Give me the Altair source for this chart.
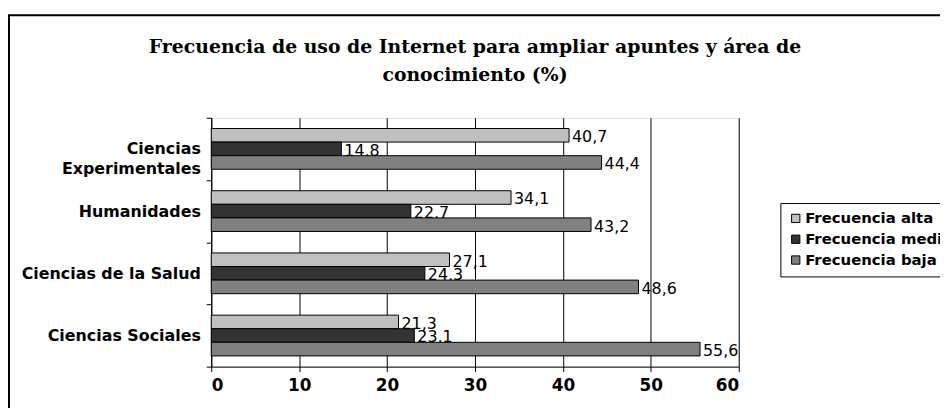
import altair as alt
import pandas as pd

categories = ["Ciencias Experimentales", "Humanidades", "Ciencias de la Salud", "Ciencias Sociales"]
series = ["Frecuencia alta", "Frecuencia media", "Frecuencia baja"]
alta = [40.7, 34.1, 27.1, 21.3]
media = [14.8, 22.7, 24.3, 23.1]
baja = [44.4, 43.2, 48.6, 55.6]
colors = ["#C0C0C0", "#333333", "#808080"]

rows = []
for s, vals in zip(series, [alta, media, baja]):
    for c, v in zip(categories, vals):
        rows.append({"cat": c, "serie": s, "valor": v,
                     "etiqueta": f"{v:.1f}".replace(".", ",")})
df = pd.DataFrame(rows)

SANS = "DejaVu Sans"

y_enc = alt.Y("cat:N", sort=categories, title=None,
              scale=alt.Scale(paddingInner=0, paddingOuter=0),
              axis=alt.Axis(tickBand="extent", domainColor="black", tickColor="black",
                            tickSize=5, labelFont=SANS, labelFontSize=16,
                            labelFontWeight="bold", labelColor="black", labelPadding=6,
                            labelLineHeight=20, labelLimit=300,
                            labelExpr="datum.value == 'Ciencias Experimentales' ? ['Ciencias', 'Experimentales'] : datum.value"))
yoff = alt.YOffset("serie:N", sort=series,
                   scale=alt.Scale(paddingInner=0, paddingOuter=0.79))
x_enc = alt.X("valor:Q", title=None,
              scale=alt.Scale(domain=[0, 60], nice=False),
              axis=alt.Axis(values=[0, 10, 20, 30, 40, 50, 60], grid=True,
                            gridColor="black", gridOpacity=1, gridWidth=1,
                            domainColor="black", tickColor="black", tickSize=5,
                            labelFont=SANS, labelFontSize=17, labelFontWeight="bold",
                            labelColor="black", labelPadding=6))

text = alt.Chart(df).mark_text(align="left", baseline="middle", dx=3, dy=2,
                               font=SANS, fontSize=16, color="black").encode(
    x=x_enc, y=y_enc, yOffset=yoff, text="etiqueta:N")

bars = alt.Chart(df).mark_bar(stroke="black", strokeWidth=1).encode(
    x=x_enc, y=y_enc, yOffset=yoff,
    color=alt.Color("serie:N", sort=series, title=None,
                    scale=alt.Scale(domain=series, range=colors),
                    legend=alt.Legend(orient="none", legendX=574, legendY=86,
                                      strokeColor="black", padding=8,
                                      symbolType="square", symbolSize=70,
                                      symbolStrokeColor="black", symbolStrokeWidth=1,
                                      labelFont=SANS, labelFontSize=15, labelOffset=2,
                                      labelFontWeight="bold", labelColor="black",
                                      rowPadding=5, labelLimit=300)))

frame = alt.Chart(alt.Data(values=[{}])).mark_rect(
    fillOpacity=0, stroke="black", strokeWidth=2).encode(
    x=alt.value(-204), x2=alt.value(760), y=alt.value(-103.5), y2=alt.value(320))

chart = alt.layer(frame, text, bars).properties(
    width=532, height=251,
    title=alt.Title(["Frecuencia de uso de Internet para ampliar apuntes y área de",
                     "conocimiento (%)"],
                    font="DejaVu Serif", fontSize=19, fontWeight="bold",
                    color="black", anchor="middle", lineHeight=28, offset=-71),
    autosize=alt.AutoSizeParams(type="none"),
    padding={"left": 205, "top": 109, "right": 203, "bottom": 40},
).configure_view(stroke="#808080", strokeWidth=1.5).configure(background="white")

chart.save("out.html", embed_options={"renderer": "svg", "actions": False})
